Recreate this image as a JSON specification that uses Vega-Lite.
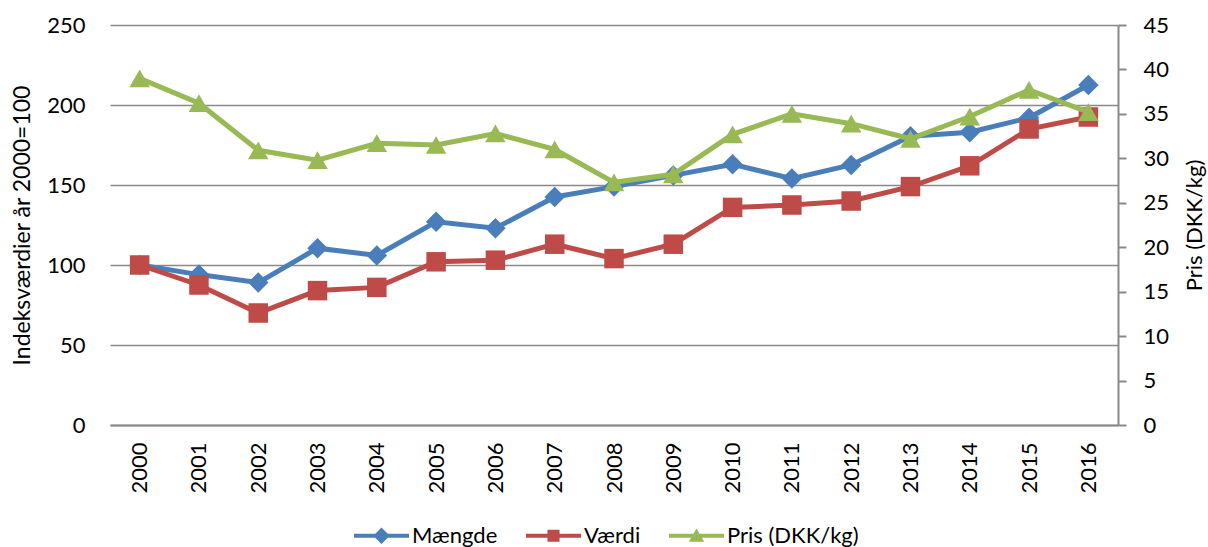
{
  "$schema": "https://vega.github.io/schema/vega-lite/v6.json",
  "width": 1008,
  "height": 400,
  "autosize": {"type": "none"},
  "padding": {"left": 110, "top": 25, "right": 90, "bottom": 122},
  "background": "white",
  "config": {
    "font": "Lato",
    "view": {"stroke": null},
    "axis": {
      "labelFont": "Lato",
      "titleFont": "Lato",
      "labelColor": "#000000",
      "titleColor": "#000000",
      "labelFontSize": 22,
      "titleFontSize": 22,
      "titleFontWeight": "normal"
    }
  },
  "data": {
    "values": [
      {"year": "2000", "series": "Mængde", "value": 100},
      {"year": "2001", "series": "Mængde", "value": 94},
      {"year": "2002", "series": "Mængde", "value": 89},
      {"year": "2003", "series": "Mængde", "value": 110.5},
      {"year": "2004", "series": "Mængde", "value": 106},
      {"year": "2005", "series": "Mængde", "value": 127},
      {"year": "2006", "series": "Mængde", "value": 123},
      {"year": "2007", "series": "Mængde", "value": 142.5},
      {"year": "2008", "series": "Mængde", "value": 149},
      {"year": "2009", "series": "Mængde", "value": 156},
      {"year": "2010", "series": "Mængde", "value": 163},
      {"year": "2011", "series": "Mængde", "value": 154},
      {"year": "2012", "series": "Mængde", "value": 162.5},
      {"year": "2013", "series": "Mængde", "value": 180.5},
      {"year": "2014", "series": "Mængde", "value": 183},
      {"year": "2015", "series": "Mængde", "value": 192},
      {"year": "2016", "series": "Mængde", "value": 212.5},
      {"year": "2000", "series": "Værdi", "value": 100},
      {"year": "2001", "series": "Værdi", "value": 87.5},
      {"year": "2002", "series": "Værdi", "value": 70},
      {"year": "2003", "series": "Værdi", "value": 84},
      {"year": "2004", "series": "Værdi", "value": 86},
      {"year": "2005", "series": "Værdi", "value": 102},
      {"year": "2006", "series": "Værdi", "value": 103},
      {"year": "2007", "series": "Værdi", "value": 113},
      {"year": "2008", "series": "Værdi", "value": 104},
      {"year": "2009", "series": "Værdi", "value": 113},
      {"year": "2010", "series": "Værdi", "value": 136},
      {"year": "2011", "series": "Værdi", "value": 137.5},
      {"year": "2012", "series": "Værdi", "value": 140},
      {"year": "2013", "series": "Værdi", "value": 149},
      {"year": "2014", "series": "Værdi", "value": 162},
      {"year": "2015", "series": "Værdi", "value": 185},
      {"year": "2016", "series": "Værdi", "value": 192.5},
      {"year": "2000", "series": "Pris (DKK/kg)", "value": 39.0},
      {"year": "2001", "series": "Pris (DKK/kg)", "value": 36.2},
      {"year": "2002", "series": "Pris (DKK/kg)", "value": 30.9},
      {"year": "2003", "series": "Pris (DKK/kg)", "value": 29.8},
      {"year": "2004", "series": "Pris (DKK/kg)", "value": 31.7},
      {"year": "2005", "series": "Pris (DKK/kg)", "value": 31.5},
      {"year": "2006", "series": "Pris (DKK/kg)", "value": 32.8},
      {"year": "2007", "series": "Pris (DKK/kg)", "value": 31.0},
      {"year": "2008", "series": "Pris (DKK/kg)", "value": 27.3},
      {"year": "2009", "series": "Pris (DKK/kg)", "value": 28.2},
      {"year": "2010", "series": "Pris (DKK/kg)", "value": 32.7},
      {"year": "2011", "series": "Pris (DKK/kg)", "value": 35.0},
      {"year": "2012", "series": "Pris (DKK/kg)", "value": 33.9},
      {"year": "2013", "series": "Pris (DKK/kg)", "value": 32.2},
      {"year": "2014", "series": "Pris (DKK/kg)", "value": 34.7},
      {"year": "2015", "series": "Pris (DKK/kg)", "value": 37.7},
      {"year": "2016", "series": "Pris (DKK/kg)", "value": 35.2}
    ]
  },
  "encoding": {
    "x": {
      "field": "year",
      "type": "ordinal",
      "scale": {"paddingInner": 0, "paddingOuter": 0},
      "axis": {
        "title": null,
        "labelAngle": 270,
        "labelPadding": 17,
        "ticks": false,
        "domain": true,
        "domainColor": "#898989",
        "domainWidth": 2,
        "grid": false
      }
    },
    "color": {
      "field": "series",
      "type": "nominal",
      "scale": {
        "domain": ["Mængde", "Værdi", "Pris (DKK/kg)"],
        "range": ["#4A7EBB", "#BE4B48", "#98B954"]
      },
      "legend": {
        "title": null,
        "orient": "none",
        "legendX": 244,
        "legendY": 483,
        "direction": "horizontal",
        "symbolSize": 3025,
        "symbolStrokeWidth": 0,
        "labelFontSize": 22,
        "labelFont": "Lato",
        "labelColor": "#000000",
        "labelOffset": 3,
        "columnPadding": 28
      }
    }
  },
  "layer": [
    {
      "encoding": {
        "y": {
          "field": "value",
          "type": "quantitative",
          "scale": {"domain": [0, 250]},
          "axis": {
            "orient": "left",
            "title": "Indeksværdier år 2000=100",
            "titleFontSize": 23,
            "values": [0, 50, 100, 150, 200, 250],
            "grid": true,
            "gridColor": "#898989",
            "gridWidth": 1.6,
            "domain": false,
            "ticks": false,
            "labelPadding": 25,
            "titlePadding": 12
          }
        }
      },
      "layer": [
        {
          "transform": [{"filter": "datum.series !== 'Pris (DKK/kg)'"}],
          "mark": {"type": "line", "strokeWidth": 5},
          "encoding": {"detail": {"field": "series"}}
        },
        {
          "transform": [{"filter": "datum.series === 'Mængde'"}],
          "mark": {"type": "point", "shape": "diamond", "filled": true, "opacity": 1, "size": 420, "strokeWidth": 0}
        },
        {
          "transform": [{"filter": "datum.series === 'Værdi'"}],
          "mark": {"type": "point", "shape": "square", "filled": true, "opacity": 1, "size": 380, "strokeWidth": 0}
        },
        {
          "transform": [{"filter": "datum.value < 0"}],
          "mark": {"type": "point", "filled": true, "opacity": 1, "strokeWidth": 0},
          "encoding": {
            "shape": {
              "field": "series",
              "type": "nominal",
              "scale": {
                "domain": ["Mængde", "Værdi", "Pris (DKK/kg)"],
                "range": [
                  "M-1,-0.075H1V0.075H-1Z M0,-0.3L0.3,0L0,0.3L-0.3,0Z",
                  "M-1,-0.075H1V0.075H-1Z M-0.22,-0.22H0.22V0.22H-0.22Z",
                  "M-1,-0.075H1V0.075H-1Z M0,-0.26L0.28,0.22H-0.28Z"
                ]
              },
              "legend": {"title": null}
            }
          }
        }
      ]
    },
    {
      "transform": [{"filter": "datum.series === 'Pris (DKK/kg)'"}],
      "encoding": {
        "y": {
          "field": "value",
          "type": "quantitative",
          "scale": {"domain": [0, 45]},
          "axis": {
            "orient": "right",
            "title": "Pris (DKK/kg)",
            "titleAngle": 270,
            "titleBaseline": "top",
            "values": [0, 5, 10, 15, 20, 25, 30, 35, 40, 45],
            "grid": false,
            "domain": true,
            "domainColor": "#898989",
            "domainWidth": 2,
            "ticks": true,
            "tickColor": "#898989",
            "tickWidth": 2,
            "tickSize": 8,
            "labelPadding": 17,
            "titlePadding": 16
          }
        }
      },
      "layer": [
        {"mark": {"type": "line", "strokeWidth": 5}},
        {"mark": {"type": "point", "shape": "triangle-up", "filled": true, "opacity": 1, "size": 420, "strokeWidth": 0}}
      ]
    }
  ],
  "resolve": {"scale": {"y": "independent"}}
}
